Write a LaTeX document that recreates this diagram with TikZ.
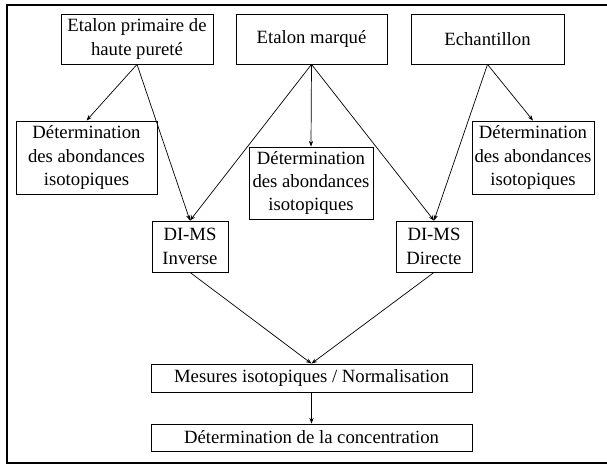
\documentclass[tikz,border=0pt]{standalone}
\usepackage{fontspec}
\setmainfont{Liberation Serif}
\usepackage{tikz}
\usetikzlibrary{arrows.meta}

\begin{document}
\begin{tikzpicture}[x=0.025cm,y=-0.025cm,>={Stealth[length=4pt,width=3pt]}]
\tikzstyle{box}=[draw,line width=0.6pt,align=center,inner sep=1pt,font=\fontsize{13.3}{16.7}\selectfont]
\tikzstyle{flow}=[->,line width=0.5pt]
\useasboundingbox (0,0) rectangle (607,464);
\draw[line width=2pt] (7,5) rectangle (612,463);
% sources
\node[box,minimum width=3.8cm,minimum height=1.25cm] (prim) at (137,39) {Etalon primaire de\\haute pureté};
\node[box,minimum width=3.775cm,minimum height=1.25cm] (marq) at (311.5,39) {Etalon marqué};
\node[box,minimum width=3.825cm,minimum height=1.25cm] (ech) at (487.5,39) {Echantillon};
% abondances
\node[box,minimum width=3.525cm,minimum height=1.825cm] (abprim) at (86.5,157.5) {Détermination\\des abondances\\isotopiques};
\node[box,minimum width=3.1cm,minimum height=1.8cm] (abmarq) at (311,183) {Détermination\\des abondances\\isotopiques};
\node[box,minimum width=3.05cm,minimum height=1.825cm] (abech) at (533,157.5) {Détermination\\des abondances\\isotopiques};
% DI-MS
\node[box,minimum width=1.9cm,minimum height=1.275cm] (inv) at (190,246.5) {DI-MS\\Inverse};
\node[box,minimum width=1.9cm,minimum height=1.275cm] (dir) at (434,246.5) {DI-MS\\Directe};
% resultats
\node[box,minimum width=8.025cm,minimum height=0.7cm] (mes) at (311.5,378) {Mesures isotopiques / Normalisation};
\node[box,minimum width=8.025cm,minimum height=0.675cm] (conc) at (311.5,437.5) {Détermination de la concentration};
\draw[flow] (prim.south) -- (abprim.north);
\draw[flow] (prim.south) -- (inv.north);
\draw[flow] (marq.south) -- (abmarq.north);
\draw[flow] (marq.south) -- (inv.north);
\draw[flow] (marq.south) -- (dir.north);
\draw[flow] (ech.south) -- (abech.north);
\draw[flow] (ech.south) -- (dir.north);
\draw[flow] (inv.south) -- (mes.north);
\draw[flow] (dir.south) -- (mes.north);
\draw[flow] (mes.south) -- (conc.north);
\end{tikzpicture}
\end{document}
